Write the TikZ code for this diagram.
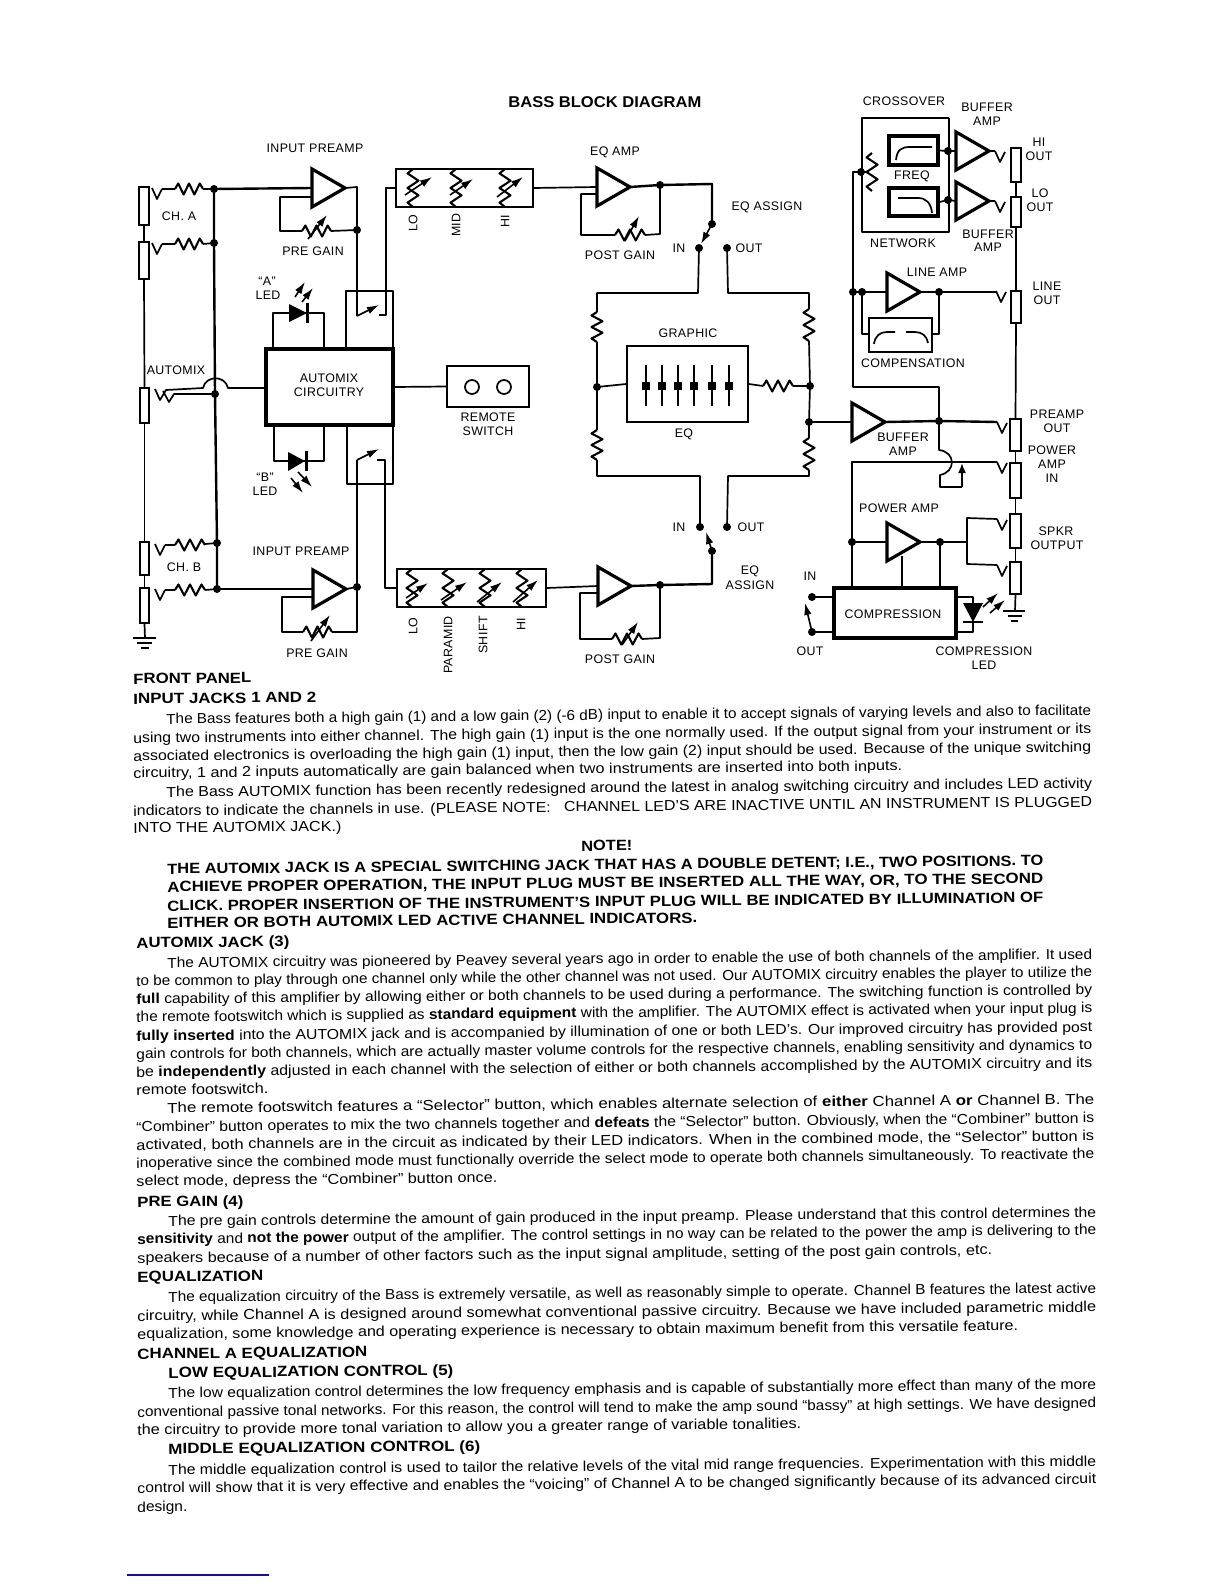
\documentclass[tikz,border=0pt]{standalone}
\usepackage{fontspec}
\usepackage{graphicx}
\setmainfont{Liberation Sans}
\newfontfamily\lblfont[LetterSpace=3]{Liberation Sans}
\usetikzlibrary{calc,arrows.meta}
\definecolor{footrule}{HTML}{1010A0}

\newsavebox{\fitBox}
\newcommand{\fitText}[2]{%
    \sbox{\fitBox}{#2}%
    \pgfmathsetmacro{\fitRatio}{(#1)*0.5/\the\wd\fitBox}%
    \scalebox{\fitRatio}[1]{\usebox{\fitBox}}%
}

\begin{document}
\begin{tikzpicture}[x=0.5pt,y=-0.5pt,
    wire/.style={line width=0.85pt,line join=round},
    resline/.style={line width=1.05pt,line join=round},
    thickwire/.style={line width=1.2pt,line join=round},
    ampline/.style={line width=1.6pt,line join=miter},
    panel/.style={draw,line width=0.85pt,inner sep=0pt},
    heavybox/.style={draw,line width=1.6pt,inner sep=0pt},
    jackbox/.style={draw,line width=1pt,inner sep=0pt},
    knob/.style={line width=0.8pt,-{Latex[length=6pt,width=3.8pt]}},
    lbl/.style={inner sep=0pt,font=\lblfont\fontsize{6.2}{7}\selectfont},
    bodytext/.style={anchor=base west,inner sep=0pt,rotate=0.55,font=\fontsize{7.2}{8}\selectfont},
    headtext/.style={anchor=base west,inner sep=0pt,rotate=0.55,font=\bfseries\fontsize{7.4}{9}\selectfont}]

\useasboundingbox (0,0) rectangle (1224,1584);

\newcommand{\drawAmp}[3]{
    \coordinate (#1) at (#2,#3);
    \coordinate (#1Tip) at (#2+33,#3);
    \draw[ampline] (#2,#3-19) -- (#1Tip) -- (#2,#3+19) -- cycle;
}
\newcommand{\drawResH}[3]{
    \begin{scope}[shift={(#1,#2)},xscale={(#3-#1)/26}]
    \draw[resline] (0,0)--(3,-5.5)--(8,5.5)--(13,-5.5)--(18,5.5)--(23,-5.5)--(26,0);
    \end{scope}
}
\newcommand{\drawResV}[3]{
    \begin{scope}[shift={(#1,#2)},yscale={(#3-#2)/26}]
    \draw[resline] (0,0)--(-5.5,3)--(5.5,8)--(-5.5,13)--(5.5,18)--(-5.5,23)--(0,26);
    \end{scope}
}
\newcommand{\drawTip}[3]{
    \coordinate (#1) at (#2+10,#3+1);
    \draw[wire] (#2,#3) -- (#2+5,#3+11) -- (#1);
}
\newcommand{\drawBox}[6]{
    \node[#2,minimum width={(#5-#3)*0.5pt},minimum height={(#6-#4)*0.5pt}] (#1) at ({(#3+#5)/2},{(#4+#6)/2}) {};
}
\newcommand{\bodyLine}[5]{
    \node[bodytext] (#1) at (#2,#3) {\fitText{#4}{#5}};
}
\newcommand{\headLine}[5]{
    \node[headtext] (#1) at (#2,#3) {\fitText{#4}{#5}};
}

% junctions
\foreach \n/\x/\y in {dotA1/214/189,dotA2/214/243,dotAux/215/394,dotB1/217/543,dotB2/217/589,
    dotPreA/357/230,dotPreB/357/587,dotEqA/660/185,dotEqPivA/712/224,dotInA/699/248,dotOutA/727/248,
    dotEqB/660/585,dotEqPivB/712/551,dotInB/700/527,dotOutB/727/527,dotGl/597/387,dotGr/810/386,
    dotBuf/809/422,dotBufOut/939/421,dotPwrIn/852/542,dotPwrOut/940/542,dotCompIn/812/597,dotCompOut/812/632,
    dotFreq/861/172,dotHi/948/151,dotLo/948/200,dotLineA/853/292,dotLineB/862/292,dotLineOut/939/292}
{
    \coordinate (\n) at (\x,\y);
    \fill (\n) circle (4);
}

% input jacks
\drawBox{jackA1}{jackbox}{139}{187}{149}{225}
\drawBox{jackA2}{jackbox}{139}{242}{149}{279}
\drawBox{jackAux}{jackbox}{140}{388}{149}{423}
\drawBox{jackB1}{jackbox}{140}{542}{149}{575}
\drawBox{jackB2}{jackbox}{140}{588}{149}{623}
\draw[wire] (jackA1.south) -- (jackA2.north);
\draw[wire] (jackA2.south) -- (jackAux.north);
\draw[wire] (jackAux.south) -- (jackB1.north);
\draw[wire] (jackB1.south) -- (jackB2.north);
\coordinate (gndL) at (145,638);
\draw[wire] (jackB2.south) -- (gndL);
\draw[wire] (133,638) -- (156,638) (137,643) -- (152,643) (141,648) -- (149,648);

\drawTip{tipA1}{152}{188}
\drawTip{tipA2}{152}{243}
\drawTip{tipB1}{155}{544}
\drawTip{tipB2}{155}{589}
\draw[wire] (tipA1) -- (175,189) (203,189) -- (dotA1);
\draw[wire] (tipA2) -- (175,244) (203,244) -- (dotA2);
\draw[wire] (tipB1) -- (175,545) (205,544) -- (dotB1);
\draw[wire] (tipB2) -- (175,590) (205,590) -- (dotB2);
\drawResH{175}{189}{203}
\drawResH{175}{244}{203}
\drawResH{175}{545}{205}
\drawResH{175}{590}{205}
\draw[thickwire] (dotA1) -- (dotA2) -- (dotAux) -- (dotB1) -- (dotB2);

% automix
\drawBox{autoBox}{heavybox}{266}{349}{393}{425}
\drawBox{remoteBox}{panel}{447}{366}{529}{407}
\draw[wire] (autoBox.east) -- (remoteBox.west);
\draw[wire] (472,387) circle (7);
\draw[wire] (504,387) circle (7);
\draw[wire] (155,389) -- (160,400) -- (166,390) -- (203,388) .. controls (206,375) and (225,375) .. (228,388) -- (266,388);
\draw[wire] (163,391) -- (169,402) -- (174,394) -- (dotAux);

% channel A preamp
\drawAmp{ampA}{312}{188}
\draw[thickwire] (dotA1) -- (ampA);
\coordinate (swA) at (357,316);
\draw[wire] (ampATip) -- (357,187) -- (swA);
\draw[wire] (312,197) -- (280,197) -- (280,231) -- (302,231) (331,231) -- (dotPreA);
\drawResH{302}{231}{331}
\drawBox{eqBoxA}{panel}{396}{169}{533}{207}
\draw[knob] (swA) -- (379,305);
\draw[wire] (379,315) -- (386,315) -- (386,188) -- (eqBoxA.west);
\draw[wire] (346,349) -- (346,291) -- (393,291) -- (393,349);
\drawResV{413}{169}{207}
\drawResV{456}{169}{207}
\drawResV{505}{169}{207}

% channel A LED
\fill (289,304) -- (307,313) -- (289,322) -- cycle;
\draw[line width=1.5pt] (307,303) -- (307,323);
\draw[wire] (273,349) -- (273,313) -- (324,313) -- (324,349);

% channel B preamp
\drawAmp{ampB}{313}{589}
\draw[thickwire] (dotB2) -- (ampB);
\coordinate (swB) at (357,460);
\draw[wire] (ampBTip) -- (dotPreB) -- (swB);
\draw[wire] (313,597) -- (282,597) -- (282,632) -- (303,632) (332,632) -- (357,632) -- (dotPreB);
\drawResH{303}{632}{332}
\drawBox{eqBoxB}{panel}{397}{569}{546}{607}
\draw[knob] (swB) -- (379,449);
\draw[wire] (377,460) -- (385,460) -- (385,588) -- (eqBoxB.west);
\draw[wire] (347,425) -- (347,484) -- (393,484) -- (393,425);
\drawResV{412}{569}{607}
\drawResV{448}{569}{607}
\drawResV{485}{569}{607}
\drawResV{522}{569}{607}

% channel B LED
\fill (288,452) -- (305,461) -- (288,471) -- cycle;
\draw[line width=1.5pt] (306,451) -- (306,471);
\draw[wire] (274,425) -- (274,461) -- (324,461) -- (324,425);

% eq amps
\drawAmp{ampEqA}{597}{187}
\draw[wire] (eqBoxA.east) -- (ampEqA);
\draw[thickwire] (ampEqATip) -- (dotEqA) -- (712,184) -- (dotEqPivA);
\draw[wire] (597,194) -- (581,194) -- (581,235) -- (615,235) (645,235) -- (660,234) -- (dotEqA);
\drawResH{615}{235}{645}
\draw[knob] (dotEqPivA) -- (701,244);

\drawAmp{ampEqB}{598}{586}
\draw[wire] (eqBoxB.east) -- (ampEqB);
\draw[thickwire] (ampEqBTip) -- (dotEqB) -- (712,584) -- (dotEqPivB);
\draw[wire] (598,593) -- (580,593) -- (580,639) -- (612,639) (642,639) -- (660,638) -- (dotEqB);
\drawResH{612}{639}{642}
\draw[knob] (dotEqPivB) -- (706,532);

% graphic eq
\drawBox{graphicBox}{panel}{627}{346}{748}{422}
\foreach \x in {646,662,678,694,712,729}
{
    \draw[line width=1pt] (\x,365) -- (\x,406);
    \fill (\x-4,382) rectangle (\x+4,390);
}
\draw[wire] (dotInA) -- (698,293) -- (597,293) -- (597,312);
\drawResV{597}{312}{342}
\draw[thickwire] (597,342) -- (dotGl) -- (597,430);
\drawResV{597}{430}{460}
\draw[wire] (597,460) -- (597,476) -- (700,476) -- (dotInB);
\draw[wire] (dotOutA) -- (728,293) -- (809,293) -- (809,309);
\drawResV{809}{309}{341}
\draw[wire] (809,341) -- (dotGr) -- (dotBuf) -- (809,438);
\drawResV{809}{438}{470}
\draw[wire] (809,470) -- (809,476) -- (728,476) -- (dotOutB);
\draw[wire] (dotGl) -- (graphicBox.west);
\draw[wire] (graphicBox.east) -- (763,386) (793,386) -- (dotGr);
\drawResH{763}{386}{793}

% knobs on the pots and leds
\foreach \ax/\ay/\bx/\by in {308/239/327/215,311/641/330/615,625/241/639/216,622/645/638/622,
    405/195/432/177,450/195/473/179,497/197/523/177,
    406/598/428/583,441/600/467/582,477/602/502/582,513/602/538/580,
    295/297/305/282,302/302/313/288,298/472/312/487,291/478/303/493,
    983/607/998/593,990/613/1005/600}
{
    \draw[knob] (\ax,\ay) -- (\bx,\by);
}

% buffer and power amps
\drawAmp{ampBuf}{852}{422}
\draw[thickwire] (dotBuf) -- (ampBuf);
\drawTip{tipPre}{997}{422}
\draw[thickwire] (ampBufTip) -- (dotBufOut) -- (997,422);
\draw[wire] (853,292) -- (853,387) -- (939,387) -- (dotBufOut);
\draw[wire] (dotBufOut) -- (939,450) .. controls (956,452) and (956,472) .. (940,475) -- (940,487) -- (962,487);
\draw[wire,-{Latex[length=5pt,width=4pt]}] (962,487) -- (962,463);
\drawTip{tipPwr}{997}{462}
\draw[wire] (997,462) -- (852,462) -- (dotPwrIn) -- (852,588);
\drawAmp{ampPwr}{887}{542}
\draw[wire] (dotPwrIn) -- (ampPwr);
\draw[wire] (ampPwrTip) -- (dotPwrOut) -- (967,542);
\draw[wire] (997,519) -- (967,518) -- (967,564) -- (997,565);
\drawTip{tipSpkA}{997}{519}
\drawTip{tipSpkB}{997}{565}
\draw[wire] (902,556) -- (902,588);
\draw[wire] (dotPwrOut) -- (940,588);
\drawBox{compBox}{heavybox}{834}{588}{956}{638}
\draw[wire] (dotCompIn) -- (834,597);
\draw[wire] (dotCompOut) -- (834,632);
\draw[knob] (dotCompOut) -- (805,603);

% compression led
\fill (963,603) -- (983,603) -- (973,622) -- cycle;
\draw[line width=1.2pt] (963,622) -- (983,622);
\draw[wire] (956,597) -- (973,597) -- (973,603) (973,622) -- (973,632) -- (956,632);

% crossover
\draw[wire] (949,118) -- (862,118) -- (862,232) -- (949,232) -- (949,118);
\drawBox{hiBox}{heavybox}{889}{136}{938}{165}
\drawBox{loBox}{heavybox}{889}{188}{938}{216}
\drawResV{872}{153}{191}
\draw[wire] (dotFreq) -- (868,172);
\draw[wire] (896,160) .. controls (897,150) and (901,147) .. (910,147) -- (932,147);
\draw[wire] (898,198) -- (918,198) .. controls (926,198) and (931,203) .. (932,213);
\drawAmp{ampHi}{956}{151}
\drawAmp{ampLo}{956}{201}
\draw[wire] (hiBox.east) -- (dotHi) -- (ampHi);
\draw[wire] (loBox.east) -- (dotLo) -- (ampLo);
\drawTip{tipHi}{995}{151}
\drawTip{tipLo}{995}{201}
\draw[wire] (ampHiTip) -- (995,151);
\draw[wire] (ampLoTip) -- (995,201);
\draw[thickwire] (dotFreq) -- (853,172) -- (dotLineA);

% line amp
\drawAmp{ampLine}{887}{292}
\draw[wire] (dotLineA) -- (dotLineB) -- (ampLine);
\draw[wire] (ampLineTip) -- (dotLineOut) -- (996,292);
\drawTip{tipLine}{996}{291}
\drawBox{compnBox}{panel}{869}{318}{932}{352}
\draw[wire] (dotLineB) -- (862,334) -- (869,334);
\draw[wire] (932,334) -- (939,334) -- (dotLineOut);
\draw[wire] (874,344) .. controls (875,336) and (880,332) .. (887,332) -- (895,332);
\draw[wire] (906,332) -- (915,332) .. controls (922,332) and (927,336) .. (928,343);

% output jacks
\drawBox{jackHi}{jackbox}{1011}{148}{1021}{182}
\drawBox{jackLo}{jackbox}{1011}{197}{1021}{227}
\drawBox{jackLine}{jackbox}{1011}{291}{1021}{323}
\drawBox{jackPre}{jackbox}{1010}{419}{1021}{451}
\drawBox{jackPwr}{jackbox}{1010}{463}{1021}{498}
\drawBox{jackSpkA}{jackbox}{1010}{514}{1021}{548}
\drawBox{jackSpkB}{jackbox}{1010}{562}{1021}{594}
\draw[wire] (jackHi.south) -- (jackLo.north);
\draw[thickwire] (jackLo.south) -- (jackLine.north);
\draw[wire] (jackLine.south) -- (jackPre.north);
\draw[wire] (jackPre.south) -- (jackPwr.north);
\draw[wire] (jackPwr.south) -- (jackSpkA.north);
\draw[wire] (jackSpkA.south) -- (jackSpkB.north);
\coordinate (gndR) at (1015,611);
\draw[wire] (jackSpkB.south) -- (gndR);
\draw[wire] (1003,611) -- (1025,611) (1008,616) -- (1022,616) (1011,621) -- (1018,621);

% labels of the diagram
\foreach \n/\x/\y/\t in {lblPreA/315/148/INPUT PREAMP,lblGainA/313/251/PRE GAIN,lblChA/179/216/CH. A,
    lblLedA/267/281/“A”,lblLedAb/268/295/LED,lblAutomix/176/370/AUTOMIX,lblAutoA/329/378/AUTOMIX,lblAutoB/329/392/CIRCUITRY,
    lblRemote/488/417/REMOTE,lblSwitch/488/431/SWITCH,lblLedB/265/477/“B”,lblLedBb/265/491/LED,
    lblChB/184/567/CH. B,lblPreB/301/551/INPUT PREAMP,lblGainB/317/653/PRE GAIN,
    lblEqAmp/615/152/EQ AMP,lblEqAssA/767/207/EQ ASSIGN,lblInA/679/248/IN,lblOutA/749/248/OUT,lblPostA/620/255/POST GAIN,
    lblGraphic/688/333/GRAPHIC,lblEq/684/434/EQ,lblInB/679/527/IN,lblOutB/751/527/OUT,
    lblEqAssB/750/571/EQ,lblEqAssC/750/585/ASSIGN,lblPostB/620/659/POST GAIN,
    lblCross/904/101/CROSSOVER,lblBufA/987/107/BUFFER,lblBufAb/987/121/AMP,lblHi/1039/142/HI,lblHiO/1039/156/OUT,
    lblLo/1040/193/LO,lblLoO/1040/207/OUT,lblFreq/912/176/FREQ,lblNet/903/243/NETWORK,lblBufB/988/234/BUFFER,lblBufBb/988/247/AMP,
    lblLineAmp/937/272/LINE AMP,lblLine/1047/286/LINE,lblLineO/1047/300/OUT,lblCompn/913/363/COMPENSATION,
    lblPre/1057/414/PREAMP,lblPreO/1057/428/OUT,lblPwr/1052/450/POWER,lblPwrA/1052/464/AMP,lblPwrI/1052/478/IN,
    lblBufC/903/437/BUFFER,lblBufCb/903/451/AMP,lblPwrAmp/899/508/POWER AMP,lblSpk/1056/531/SPKR,lblSpkO/1057/545/OUTPUT,
    lblCompIn/810/576/IN,lblCompOut/810/651/OUT,lblComp/893/614/COMPRESSION,lblCompLed/984/651/COMPRESSION,lblCompLedB/984/665/LED}
{
    \node[lbl] (\n) at (\x,\y) {\t};
}
\foreach \n/\x/\y/\t in {lblLoA/413/223/LO,lblMidA/456/225/MID,lblHiA/505/221/HI,
    lblLoB/413/626/LO,lblParam/448/645/PARAMID,lblShift/483/635/SHIFT,lblHiB/521/624/HI}
{
    \node[lbl,rotate=90] (\n) at (\x,\y) {\t};
}
\node[anchor=base west,inner sep=0pt,font=\bfseries\fontsize{7.8}{9}\selectfont] (title) at (508,108) {\fitText{193}{BASS BLOCK DIAGRAM}};

% text of the page
\headLine{hFront}{133}{684}{118}{FRONT PANEL}
\headLine{hJacks}{133}{704}{183}{INPUT JACKS 1 AND 2}
\bodyLine{tA}{166}{724}{925}{The Bass features both a high gain (1) and a low gain (2) (-6 dB) input to enable it to accept signals of varying levels and also to facilitate}
\bodyLine{tB}{133}{743}{958}{using two instruments into either channel. The high gain (1) input is the one normally used. If the output signal from your instrument or its}
\bodyLine{tC}{133}{761}{958}{associated electronics is overloading the high gain (1) input, then the low gain (2) input should be used. Because of the unique switching}
\bodyLine{tD}{133}{778}{769}{circuitry, 1 and 2 inputs automatically are gain balanced when two instruments are inserted into both inputs.}
\bodyLine{tE}{166}{797}{926}{The Bass AUTOMIX function has been recently redesigned around the latest in analog switching circuitry and includes LED activity}
\bodyLine{tF}{133}{816}{959}{indicators to indicate the channels in use. (PLEASE NOTE:\ \ \ CHANNEL LED'S ARE INACTIVE UNTIL AN INSTRUMENT IS PLUGGED}
\bodyLine{tG}{133}{833}{208}{INTO THE AUTOMIX JACK.)}
\headLine{hNote}{581}{851}{51}{NOTE!}
\headLine{nA}{167}{874}{876}{THE AUTOMIX JACK IS A SPECIAL SWITCHING JACK THAT HAS A DOUBLE DETENT; I.E., TWO POSITIONS. TO}
\headLine{nB}{167}{892}{876}{ACHIEVE PROPER OPERATION, THE INPUT PLUG MUST BE INSERTED ALL THE WAY, OR, TO THE SECOND}
\headLine{nC}{167}{911}{876}{CLICK. PROPER INSERTION OF THE INSTRUMENT'S INPUT PLUG WILL BE INDICATED BY ILLUMINATION OF}
\headLine{nD}{167}{928}{530}{EITHER OR BOTH AUTOMIX LED ACTIVE CHANNEL INDICATORS.}
\headLine{hAutoJack}{136}{948}{153}{AUTOMIX JACK (3)}
\bodyLine{aA}{167}{968}{925}{The AUTOMIX circuitry was pioneered by Peavey several years ago in order to enable the use of both channels of the amplifier. It used}
\bodyLine{aB}{136}{986}{956}{to be common to play through one channel only while the other channel was not used. Our AUTOMIX circuitry enables the player to utilize the}
\bodyLine{aC}{136}{1004}{956}{\textbf{full} capability of this amplifier by allowing either or both channels to be used during a performance. The switching function is controlled by}
\bodyLine{aD}{136}{1022}{956}{the remote footswitch which is supplied as \textbf{standard equipment} with the amplifier. The AUTOMIX effect is activated when your input plug is}
\bodyLine{aE}{136}{1041}{956}{\textbf{fully inserted} into the AUTOMIX jack and is accompanied by illumination of one or both LED's. Our improved circuitry has provided post}
\bodyLine{aF}{136}{1059}{956}{gain controls for both channels, which are actually master volume controls for the respective channels, enabling sensitivity and dynamics to}
\bodyLine{aG}{136}{1077}{956}{be \textbf{independently} adjusted in each channel with the selection of either or both channels accomplished by the AUTOMIX circuitry and its}
\bodyLine{aH}{136}{1095}{132}{remote footswitch.}
\bodyLine{aI}{167}{1113}{927}{The remote footswitch features a “Selector” button, which enables alternate selection of \textbf{either} Channel A \textbf{or} Channel B. The}
\bodyLine{aJ}{136}{1132}{958}{“Combiner” button operates to mix the two channels together and \textbf{defeats} the “Selector” button. Obviously, when the “Combiner” button is}
\bodyLine{aK}{136}{1150}{958}{activated, both channels are in the circuit as indicated by their LED indicators. When in the combined mode, the “Selector” button is}
\bodyLine{aL}{136}{1168}{958}{inoperative since the combined mode must functionally override the select mode to operate both channels simultaneously. To reactivate the}
\bodyLine{aM}{136}{1186}{361}{select mode, depress the “Combiner” button once.}
\headLine{hPre}{137}{1207}{106}{PRE GAIN (4)}
\bodyLine{pA}{168}{1226}{928}{The pre gain controls determine the amount of gain produced in the input preamp. Please understand that this control determines the}
\bodyLine{pB}{137}{1244}{959}{\textbf{sensitivity} and \textbf{not the power} output of the amplifier. The control settings in no way can be related to the power the amp is delivering to the}
\bodyLine{pC}{137}{1263}{855}{speakers because of a number of other factors such as the input signal amplitude, setting of the post gain controls, etc.}
\headLine{hEq}{137}{1282}{126}{EQUALIZATION}
\bodyLine{eA}{168}{1302}{928}{The equalization circuitry of the Bass is extremely versatile, as well as reasonably simple to operate. Channel B features the latest active}
\bodyLine{eB}{137}{1321}{959}{circuitry, while Channel A is designed around somewhat conventional passive circuitry. Because we have included parametric middle}
\bodyLine{eC}{137}{1339}{881}{equalization, some knowledge and operating experience is necessary to obtain maximum benefit from this versatile feature.}
\headLine{hChanA}{137}{1359}{230}{CHANNEL A EQUALIZATION}
\headLine{hLow}{168}{1378}{285}{LOW EQUALIZATION CONTROL (5)}
\bodyLine{cA}{168}{1398}{928}{The low equalization control determines the low frequency emphasis and is capable of substantially more effect than many of the more}
\bodyLine{cB}{137}{1417}{959}{conventional passive tonal networks. For this reason, the control will tend to make the amp sound “bassy” at high settings. We have designed}
\bodyLine{cC}{137}{1435}{664}{the circuitry to provide more tonal variation to allow you a greater range of variable tonalities.}
\headLine{hMid}{168}{1454}{312}{MIDDLE EQUALIZATION CONTROL (6)}
\bodyLine{mA}{168}{1475}{928}{The middle equalization control is used to tailor the relative levels of the vital mid range frequencies. Experimentation with this middle}
\bodyLine{mB}{137}{1493}{959}{control will show that it is very effective and enables the “voicing” of Channel A to be changed significantly because of its advanced circuit}
\bodyLine{mC}{137}{1512}{50}{design.}
\draw[footrule,line width=0.7pt] (127,1575) -- (269,1575);

\end{tikzpicture}
\end{document}
